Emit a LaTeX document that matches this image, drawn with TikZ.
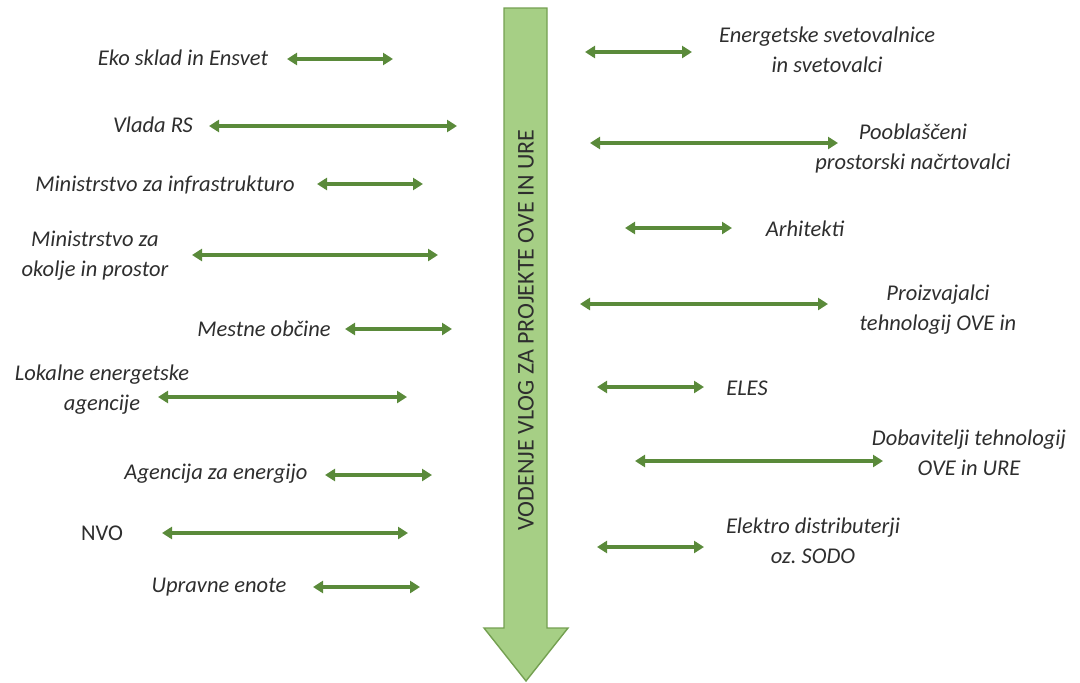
\documentclass[tikz,border=0pt]{standalone}
\usepackage{fontspec}
\setmainfont{Carlito}
\usetikzlibrary{arrows.meta}
\frenchspacing
\definecolor{linkgreen}{HTML}{5A8A3A}
\definecolor{bigfill}{HTML}{A6CF85}
\definecolor{bigdraw}{HTML}{74A051}
\definecolor{txt}{HTML}{2E2E2E}
\tikzset{
  lbl/.style={inner sep=0pt, align=center, text=txt, font=\fontsize{22.5}{30}\selectfont\itshape},
  lblup/.style={inner sep=0pt, align=center, text=txt, font=\fontsize{22.5}{30}\selectfont},
  link/.style={draw=linkgreen, line width=3.2pt, {Triangle[length=10pt,width=12pt]}-{Triangle[length=10pt,width=12pt]}},
}
\begin{document}
\begin{tikzpicture}[x=1pt,y=-1pt]
\useasboundingbox (0,0) rectangle (1080,683);
% big arrow
\draw[fill=bigfill, draw=bigdraw, line width=1.4pt, line join=miter]
  (504,8) -- (547,8) -- (547,628) -- (568,628) -- (526,681) -- (484,628) -- (504,628) -- cycle;
\node[rotate=90, inner sep=0pt, text=txt, font=\fontsize{24}{28}\selectfont] (main) at (526,330) {VODENJE VLOG ZA PROJEKTE OVE IN URE};

% left labels
\node[lbl] (l1) at (183,58) {Eko sklad in Ensvet};
\node[lbl] (l2) at (153,125) {Vlada RS};
\node[lbl] (l3) at (165,185) {Ministrstvo za infrastrukturo};
\node[lbl] (l4) at (95,256) {Ministrstvo za\\okolje in prostor};
\node[lbl] (l5) at (264,329) {Mestne občine};
\node[lbl] (l6) at (102,390) {Lokalne energetske\\agencije};
\node[lbl] (l7) at (216,474) {Agencija za energijo};
\node[lblup] (l8) at (102,533) {NVO};
\node[lbl] (l9) at (219,587) {Upravne enote};

% right labels
\node[lbl] (r1) at (827,50) {Energetske svetovalnice\\in svetovalci};
\node[lbl] (r2) at (913,148) {Pooblaščeni\\prostorski načrtovalci};
\node[lbl] (r3) at (805,229) {Arhitekti};
\node[lbl] (r4) at (938,310) {Proizvajalci\\tehnologij OVE in};
\node[lbl] (r5) at (747,388) {ELES};
\node[lbl] (r6) at (969,453) {Dobavitelji tehnologij\\OVE in URE};
\node[lbl] (r7) at (813,541) {Elektro distributerji\\oz. SODO};

% connector end points
\coordinate (la1) at (287,59);  \coordinate (lb1) at (393,59);
\coordinate (la2) at (209,126); \coordinate (lb2) at (457,126);
\coordinate (la3) at (317,184); \coordinate (lb3) at (423,184);
\coordinate (la4) at (192,255); \coordinate (lb4) at (438,255);
\coordinate (la5) at (345,329); \coordinate (lb5) at (452,329);
\coordinate (la6) at (158,397); \coordinate (lb6) at (407,397);
\coordinate (la7) at (325,475); \coordinate (lb7) at (432,475);
\coordinate (la8) at (162,533); \coordinate (lb8) at (408,533);
\coordinate (la9) at (313,587); \coordinate (lb9) at (420,587);

\coordinate (ra1) at (585,52);  \coordinate (rb1) at (692,52);
\coordinate (ra2) at (590,143); \coordinate (rb2) at (838,143);
\coordinate (ra3) at (625,228); \coordinate (rb3) at (732,228);
\coordinate (ra4) at (580,304); \coordinate (rb4) at (828,304);
\coordinate (ra5) at (597,387); \coordinate (rb5) at (704,387);
\coordinate (ra6) at (635,461); \coordinate (rb6) at (883,461);
\coordinate (ra7) at (597,547); \coordinate (rb7) at (704,547);

\foreach \i in {1,...,9} { \draw[link] (la\i) -- (lb\i); }
\foreach \i in {1,...,7} { \draw[link] (ra\i) -- (rb\i); }
\end{tikzpicture}
\end{document}
